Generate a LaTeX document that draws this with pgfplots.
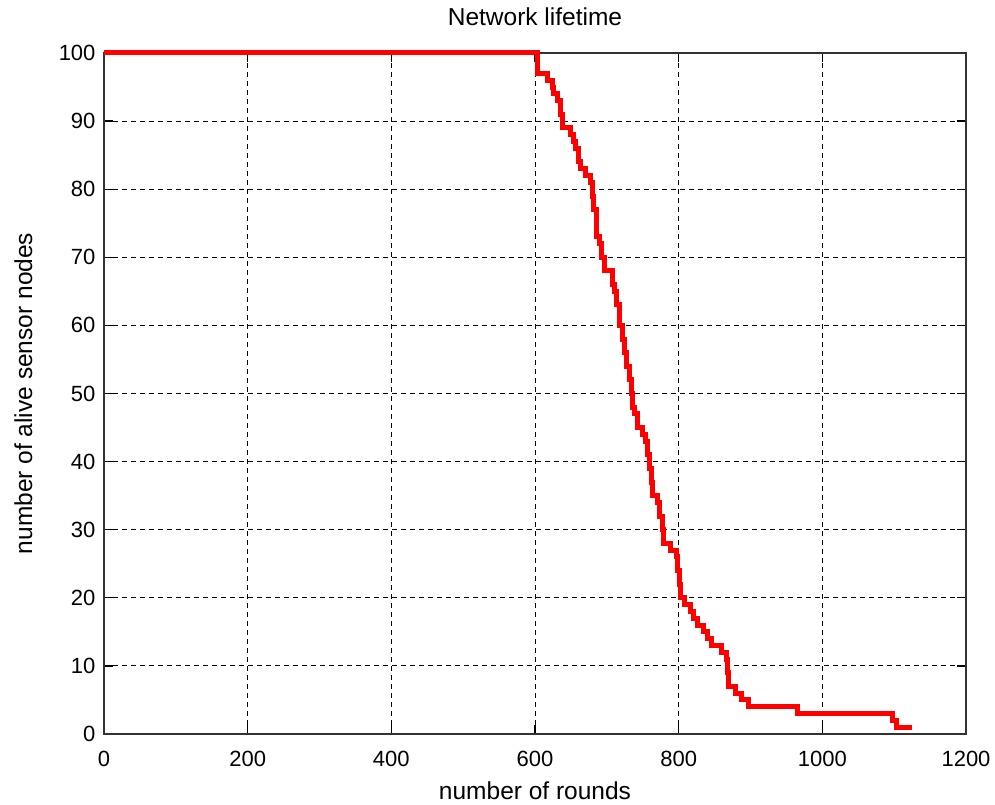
\documentclass[border=0pt]{standalone}
\usepackage{fontspec}
\setmainfont{Liberation Sans}
\usepackage{pgfplots}
\pgfplotsset{compat=1.18}
\begin{document}
\begin{tikzpicture}
\begin{axis}[
  at={(0pt,0pt)}, anchor=south west,
  scale only axis, width=862pt, height=681pt,
  xmin=0, xmax=1200, ymin=0, ymax=100,
  xtick={0,200,...,1200}, ytick={0,10,...,100},
  /pgf/number format/assume math mode=true,
  /pgf/number format/1000 sep={},
  tick label style={font=\fontsize{22}{25}\selectfont, black},
  xticklabel style={anchor=base, yshift=-32pt},
  yticklabel style={anchor=east, xshift=-5pt},
  label style={font=\fontsize{24.5}{28}\selectfont},
  title style={font=\fontsize{24.5}{28}\selectfont, at={(axis description cs:0.5,1.03084)}, anchor=base},
  xlabel style={at={(axis description cs:0.5,-0.0969)}, anchor=base},
  ylabel style={at={(axis description cs:-0.0835,0.5)}, anchor=base},
  title={Network lifetime},
  xlabel={number of rounds},
  ylabel={number of alive sensor nodes},
  grid=major,
  major grid style={black, line width=1pt, dash pattern=on 5pt off 4pt},
  axis line style={black!80, line width=1.3pt},
  major tick length=9pt,
  tick style={black, line width=1.3pt},
  clip=false,
]
\addplot[const plot, color=red, line width=5pt] coordinates {
(0,100) (604,97) (618,96) (624,95) (626,94) (632,93) (636,91) (638,89)
(649,88) (654,87) (657,86) (660,84) (663,83) (670,82) (677,81) (680,79)
(682,77) (686,73) (690,72) (693,70) (697,68) (708,66) (711,65) (714,63)
(718,60) (722,58) (725,56) (728,54) (731,52) (734,50) (736,48) (739,47)
(742,45) (750,44) (754,43) (757,41) (759,39) (762,37) (764,35) (771,34)
(774,32) (777,30) (779,28) (788,27) (797,26) (799,24) (801,22) (803,20)
(808,19) (816,18) (821,17) (826,16) (834,15) (840,14) (846,13) (860,12)
(866,11) (868,9) (870,7) (879,6) (888,5) (897,4) (965,3) (1097,2)
(1103,1) (1125,1)
};
\end{axis}
\pgfresetboundingbox
\path (-104pt,-71pt) rectangle (891pt,734pt);
\end{tikzpicture}
\end{document}
